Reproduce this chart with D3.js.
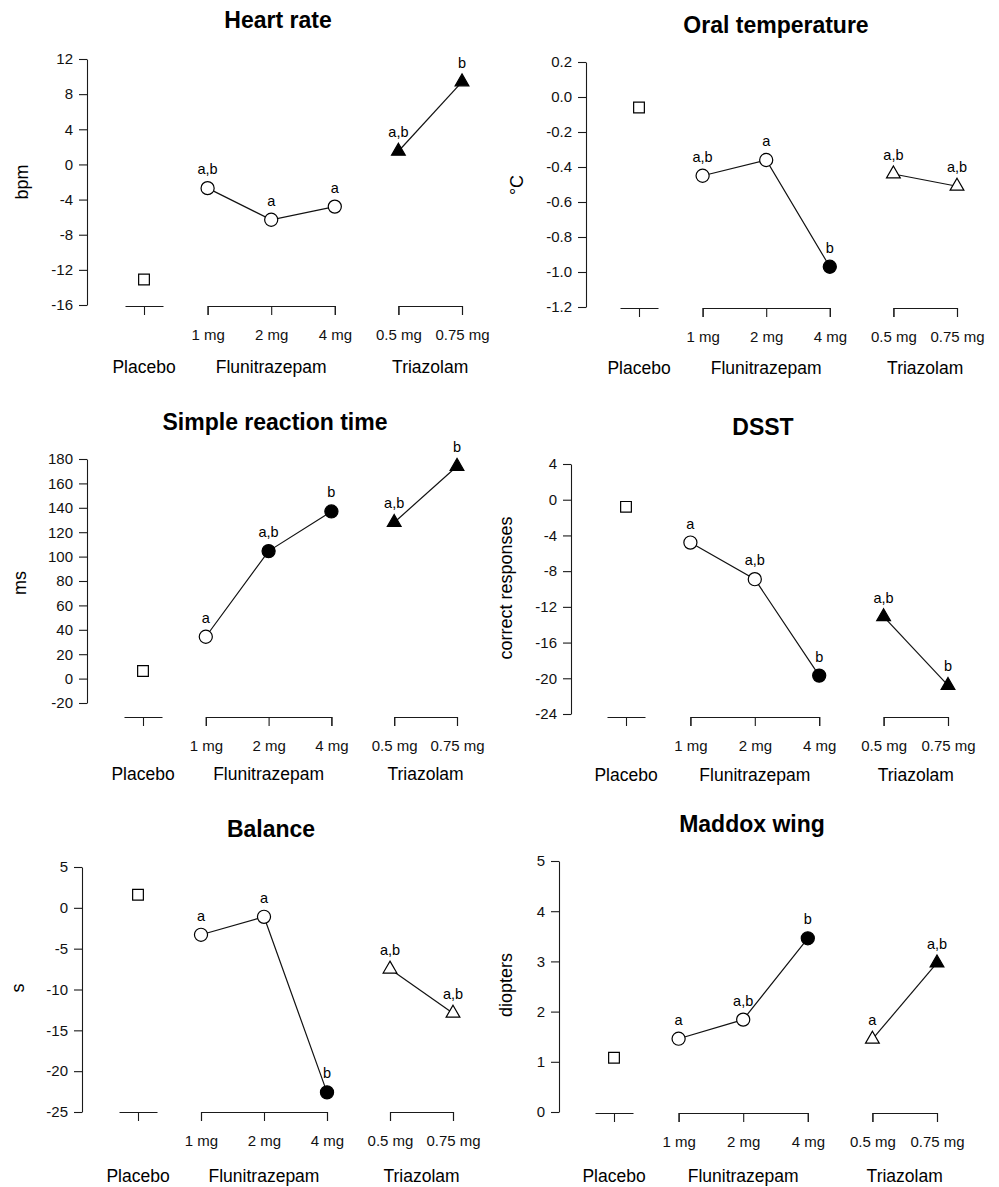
<!DOCTYPE html>
<html>
<head>
<meta charset="UTF-8">
<title>Flunitrazepam / Triazolam effects</title>
<script src="https://d3js.org/d3.v7.min.js"></script>
<style>
    body { margin: 0; background: #fff; }
    svg { display: block; font-family: Arial, "Liberation Sans", Helvetica, sans-serif; }
    .axis path, .axis line { stroke: #1a1a1a; stroke-width: 1.1; }
    .axis text { font-size: 15px; fill: #111; }
    .title { font-size: 23px; font-weight: bold; }
    .unit { font-size: 18px; }
    .group { font-size: 17.5px; }
    .letter { font-size: 14.5px; }
</style>
</head>
<body>
<svg id="chart"></svg>
<script>
// categories
const groups = ["Placebo", "Flunitrazepam", "Triazolam"];
const doses = ["", "1 mg", "2 mg", "4 mg", "0.5 mg", "0.75 mg"];
const doseGroup = [0, 1, 1, 1, 2, 2];

// heart rate (bpm)
const heartRate = [-13.1, -2.7, -6.3, -4.8, 1.5, 9.4];
const heartRateSig = [0, 0, 0, 0, 1, 1];
const heartRateLetters = ["", "a,b", "a", "a", "a,b", "b"];
const heartRateTicks = [-16, -12, -8, -4, 0, 4, 8, 12];

// oral temperature (°C)
const oralTemp = [-0.06, -0.45, -0.36, -0.97, -0.44, -0.51];
const oralTempSig = [0, 0, 0, 1, 0, 0];
const oralTempLetters = ["", "a,b", "a", "b", "a,b", "a,b"];
const oralTempTicks = [-1.2, -1.0, -0.8, -0.6, -0.4, -0.2, 0.0, 0.2];

// simple reaction time (ms)
const reactionTime = [6.3, 34.3, 104.5, 137, 128, 174];
const reactionTimeSig = [0, 0, 1, 1, 1, 1];
const reactionTimeLetters = ["", "a", "a,b", "b", "a,b", "b"];
const reactionTimeTicks = [-20, 0, 20, 40, 60, 80, 100, 120, 140, 160, 180];

// DSST (correct responses)
const dsst = [-0.8, -4.8, -8.9, -19.7, -13.1, -20.8];
const dsstSig = [0, 0, 0, 1, 1, 1];
const dsstLetters = ["", "a", "a,b", "b", "a,b", "b"];
const dsstTicks = [-24, -20, -16, -12, -8, -4, 0, 4];

// balance (s)
const balance = [1.6, -3.3, -1.1, -22.6, -7.5, -12.9];
const balanceSig = [0, 0, 0, 1, 0, 0];
const balanceLetters = ["", "a", "a", "b", "a,b", "a,b"];
const balanceTicks = [-25, -20, -15, -10, -5, 0, 5];

// Maddox wing (diopters)
const maddox = [1.08, 1.46, 1.84, 3.46, 1.45, 2.97];
const maddoxSig = [0, 0, 0, 1, 0, 1];
const maddoxLetters = ["", "a", "a,b", "b", "a", "a,b"];
const maddoxTicks = [0, 1, 2, 3, 4, 5];

// plain hyphen as minus sign, like the original figure
const loc = d3.formatLocale({ decimal: ".", thousands: ",", grouping: [3], currency: ["", ""], minus: "-" });

// panel layout
const panels = [
    { title: "Heart rate", unit: "bpm", values: heartRate, sig: heartRateSig, letters: heartRateLetters,
      ticks: heartRateTicks, fmt: loc.format("d"),
      axisX: 87, yTop: 59, yBot: 305, x0: 144, x5: 462, lineY: 306,
      titleX: 278, titleY: 28, unitX: 28, unitY: 182, groupY: 373 },
    { title: "Oral temperature", unit: "°C", values: oralTemp, sig: oralTempSig, letters: oralTempLetters,
      ticks: oralTempTicks, fmt: loc.format(".1f"),
      axisX: 586, yTop: 62, yBot: 307, x0: 639, x5: 957, lineY: 308,
      titleX: 776, titleY: 33, unitX: 523, unitY: 185, groupY: 374 },
    { title: "Simple reaction time", unit: "ms", values: reactionTime, sig: reactionTimeSig, letters: reactionTimeLetters,
      ticks: reactionTimeTicks, fmt: loc.format("d"),
      axisX: 87, yTop: 459, yBot: 703, x0: 143, x5: 457, lineY: 717,
      titleX: 275, titleY: 430, unitX: 26, unitY: 583, groupY: 780 },
    { title: "DSST", unit: "correct responses", values: dsst, sig: dsstSig, letters: dsstLetters,
      ticks: dsstTicks, fmt: loc.format("d"),
      axisX: 571, yTop: 464, yBot: 714, x0: 626, x5: 948, lineY: 717,
      titleX: 763, titleY: 435, unitX: 512, unitY: 588, groupY: 781 },
    { title: "Balance", unit: "s", values: balance, sig: balanceSig, letters: balanceLetters,
      ticks: balanceTicks, fmt: loc.format("d"),
      axisX: 82, yTop: 867, yBot: 1112, x0: 138, x5: 453, lineY: 1112,
      titleX: 271, titleY: 837, unitX: 24, unitY: 988, groupY: 1182 },
    { title: "Maddox wing", unit: "diopters", values: maddox, sig: maddoxSig, letters: maddoxLetters,
      ticks: maddoxTicks, fmt: loc.format("d"),
      axisX: 559, yTop: 861, yBot: 1112, x0: 614, x5: 937, lineY: 1113,
      titleX: 752, titleY: 832, unitX: 512, unitY: 985, groupY: 1182 }
];

const svg = d3.select("#chart").attr("width", 999).attr("height", 1187);

const markerFor = i => {
    if (doseGroup[i] === 0) return d3.symbol().type(d3.symbolSquare).size(115)();
    if (doseGroup[i] === 1) return d3.symbol().type(d3.symbolCircle).size(135)();
    return d3.symbol().type(d3.symbolTriangle).size(82)();
};

panels.forEach(p => {
    const g = svg.append("g");
    const x = d3.scaleLinear().domain([0, 5]).range([p.x0, p.x5]);
    const y = d3.scaleLinear().domain(d3.extent(p.ticks)).range([p.yBot, p.yTop]);

    // title
    g.append("text").attr("class", "title")
        .attr("x", p.titleX).attr("y", p.titleY)
        .attr("text-anchor", "middle").text(p.title);

    // y axis
    g.append("g").attr("class", "axis")
        .attr("transform", `translate(${p.axisX},0)`)
        .call(d3.axisLeft(y).tickValues(p.ticks).tickFormat(p.fmt)
            .tickSize(8).tickSizeOuter(0).tickPadding(6));

    g.append("text").attr("class", "unit")
        .attr("text-anchor", "middle")
        .attr("transform", `translate(${p.unitX},${p.unitY}) rotate(-90)`)
        .text(p.unit);

    // x axes, one bracket per group
    groups.forEach((name, gi) => {
        const idx = doseGroup.map((d, i) => d === gi ? i : -1).filter(i => i >= 0);
        const first = idx[0], last = idx[idx.length - 1];
        let sub;
        if (gi === 0) {
            sub = d3.scaleLinear().domain([first - 0.3, first + 0.3]).range([x(first) - 19, x(first) + 19]);
        } else {
            sub = d3.scaleLinear().domain([first, last]).range([x(first), x(last)]);
        }
        const ax = d3.axisBottom(sub).tickValues(idx)
            .tickFormat(i => doses[i])
            .tickSize(9).tickSizeOuter(gi === 0 ? 0 : 9).tickPadding(14);
        g.append("g").attr("class", "axis")
            .attr("transform", `translate(0,${p.lineY})`)
            .call(ax);

        g.append("text").attr("class", "group")
            .attr("x", d3.mean(idx, i => x(i)))
            .attr("y", p.groupY)
            .attr("text-anchor", "middle")
            .text(name);

        // connecting lines within drug groups
        if (gi > 0) {
            g.append("path")
                .datum(idx)
                .attr("fill", "none")
                .attr("stroke", "#111")
                .attr("stroke-width", 1.2)
                .attr("d", d3.line().x(i => x(i)).y(i => y(p.values[i])));
        }
    });

    // markers
    g.selectAll(".pt").data(p.values).join("path")
        .attr("class", "pt")
        .attr("transform", (v, i) => `translate(${x(i)},${y(v)})`)
        .attr("d", (v, i) => markerFor(i))
        .attr("fill", (v, i) => p.sig[i] ? "#000" : "#fff")
        .attr("stroke", "#000")
        .attr("stroke-width", 1.2);

    // significance letters
    g.selectAll(".letter").data(p.values).join("text")
        .attr("class", "letter")
        .attr("x", (v, i) => x(i))
        .attr("y", (v, i) => y(v) - 14)
        .attr("text-anchor", "middle")
        .text((v, i) => p.letters[i]);
});
</script>
</body>
</html>
